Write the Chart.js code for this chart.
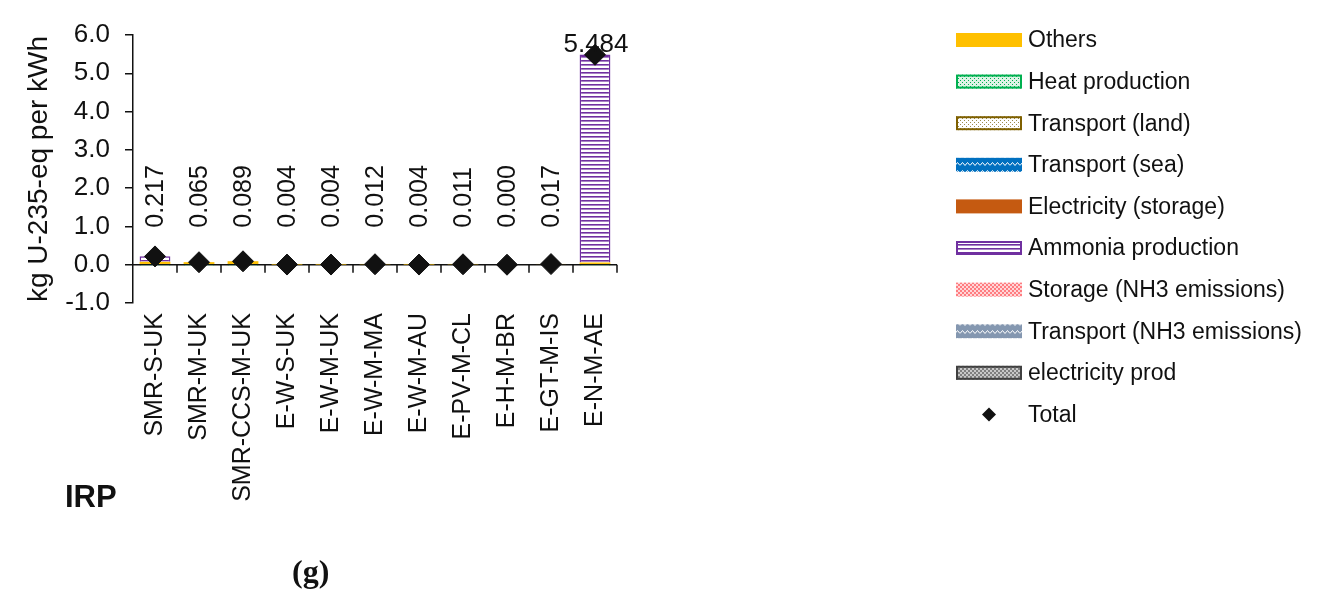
<!DOCTYPE html>
<html>
<head>
<meta charset="utf-8">
<script src="https://cdn.jsdelivr.net/npm/chart.js@4.4.1/dist/chart.umd.min.js"></script>
<style>
  html, body { margin: 0; padding: 0; background: #fff; }
  #wrap { position: relative; width: 1318px; height: 595px; }
  #chart { position: absolute; left: 0; top: 0; }
  .note { position: absolute; color: #111; line-height: 1; }
  #irp { left: 65px; top: 479px; font: bold 31px 'Liberation Sans', Arial, sans-serif; }
  #fig { left: 292px; top: 553px; font: bold 32px 'Liberation Serif', 'Times New Roman', serif; }
</style>
</head>
<body>
<div id="wrap">
  <canvas id="chart" width="1318" height="595"></canvas>
  <div class="note" id="irp">IRP</div>
  <div class="note" id="fig">(g)</div>
</div>
<script>
// Categorias e valores
const categories = ['SMR-S-UK', 'SMR-M-UK', 'SMR-CCS-M-UK', 'E-W-S-UK', 'E-W-M-UK', 'E-W-M-MA',
  'E-W-M-AU', 'E-PV-M-CL', 'E-H-M-BR', 'E-GT-M-IS', 'E-N-M-AE'];
const others = [0.076, 0.067, 0.092, 0.004, 0.004, 0.012, 0.004, 0.011, 0.000, 0.017, 0.058];
const heatProduction = [-0.004, -0.002, -0.003, 0, 0, 0, 0, 0, 0, 0, -0.004];
const transportLand = [0, 0, 0, 0, 0, 0, 0, 0, 0, 0, 0];
const transportSea = [0, 0, 0, 0, 0, 0, 0, 0, 0, 0, 0];
const electricityStorage = [0, 0, 0, 0, 0, 0, 0, 0, 0, 0, 0];
const ammoniaProduction = [0.145, 0, 0, 0, 0, 0, 0, 0, 0, 0, 5.430];
const storageNH3 = [0, 0, 0, 0, 0, 0, 0, 0, 0, 0, 0];
const transportNH3 = [0, 0, 0, 0, 0, 0, 0, 0, 0, 0, 0];
const electricityProd = [0, 0, 0, 0, 0, 0, 0, 0, 0, 0, 0];
const totals = [0.217, 0.065, 0.089, 0.004, 0.004, 0.012, 0.004, 0.011, 0.000, 0.017, 5.484];
const yTicks = [-1, 0, 1, 2, 3, 4, 5, 6];

const FONT = "'Liberation Sans', Arial, sans-serif";

// Texturas das barras
function makePattern(w, h, draw) {
  const c = document.createElement('canvas');
  c.width = w; c.height = h;
  const g = c.getContext('2d');
  draw(g, w, h);
  return g.createPattern(c, 'repeat');
}
const dots = (bg, fg) => makePattern(4, 4, (g) => {
  g.fillStyle = bg; g.fillRect(0, 0, 4, 4);
  g.fillStyle = fg; g.fillRect(0, 0, 1, 1); g.fillRect(2, 2, 1, 1);
});
const zigzag = (bg, fg) => makePattern(10, 8, (g) => {
  g.fillStyle = bg; g.fillRect(0, 0, 10, 8);
  g.strokeStyle = fg; g.lineWidth = 1;
  g.beginPath(); g.moveTo(0, 5.5); g.lineTo(2.5, 2.5); g.lineTo(5, 5.5); g.lineTo(7.5, 2.5); g.lineTo(10, 5.5); g.stroke();
});
const checks = (bg, fg) => makePattern(4, 4, (g) => {
  g.fillStyle = bg; g.fillRect(0, 0, 4, 4);
  g.fillStyle = fg; g.fillRect(0, 0, 2, 2); g.fillRect(2, 2, 2, 2);
});
const hlines = (fg) => makePattern(4, 4, (g) => {
  g.fillStyle = '#ffffff'; g.fillRect(0, 0, 4, 4);
  g.fillStyle = fg; g.fillRect(0, 0, 4, 1.6);
});

const series = [
  { label: 'Others', data: others, fill: '#FFC000', border: null },
  { label: 'Heat production', data: heatProduction, fill: dots('#dff3e6', '#00B050'), border: '#00B050' },
  { label: 'Transport (land)', data: transportLand, fill: dots('#ffffff', '#9c8a4a'), border: '#7F6000' },
  { label: 'Transport (sea)', data: transportSea, fill: zigzag('#0070C0', '#ffffff'), border: null },
  { label: 'Electricity (storage)', data: electricityStorage, fill: '#C55A11', border: null },
  { label: 'Ammonia production', data: ammoniaProduction, fill: hlines('#7030A0'), border: '#7030A0' },
  { label: 'Storage (NH3 emissions)', data: storageNH3, fill: checks('#FF7C80', '#ffd6d8'), border: null },
  { label: 'Transport (NH3 emissions)', data: transportNH3, fill: zigzag('#8497B0', '#ffffff'), border: null },
  { label: 'electricity prod', data: electricityProd, fill: checks('#7f7f7f', '#c8c8c8'), border: '#404040' },
];

const datasets = series.map((s) => ({
  type: 'bar',
  label: s.label,
  data: s.data,
  backgroundColor: s.fill,
  borderColor: s.border || s.fill,
  borderWidth: s.border ? 1.5 : 0,
  order: 2,
}));
datasets.push({
  type: 'line',
  label: 'Total',
  data: totals,
  showLine: false,
  pointStyle: 'rectRot',
  pointRadius: 10.5,
  pointHoverRadius: 10.5,
  pointBackgroundColor: '#111',
  pointBorderColor: '#111',
  order: 0,
});
const totalIndex = datasets.length - 1;

// Linha do eixo x no zero, com marcas entre categorias
const zeroAxis = {
  id: 'zeroAxis',
  beforeDatasetsDraw(chart) {
    const { ctx, chartArea, scales: { x, y } } = chart;
    const y0 = y.getPixelForValue(0);
    const half = (x.getPixelForValue(1) - x.getPixelForValue(0)) / 2;
    ctx.save();
    ctx.strokeStyle = '#111';
    ctx.lineWidth = 1.5;
    ctx.beginPath();
    ctx.moveTo(chartArea.left, y0);
    ctx.lineTo(chartArea.right, y0);
    categories.forEach((c, i) => {
      const bx = x.getPixelForValue(i) + half;
      ctx.moveTo(bx, y0);
      ctx.lineTo(bx, y0 + 8);
    });
    ctx.stroke();
    ctx.restore();
  },
};

// Rótulos dos totais
const valueLabels = {
  id: 'valueLabels',
  afterDatasetsDraw(chart) {
    const { ctx, scales: { y } } = chart;
    const meta = chart.getDatasetMeta(totalIndex);
    ctx.save();
    ctx.fillStyle = '#111';
    meta.data.forEach((pt, i) => {
      const txt = totals[i].toFixed(3);
      if (totals[i] > 1) {
        ctx.font = '26px ' + FONT;
        ctx.textAlign = 'center';
        ctx.textBaseline = 'alphabetic';
        ctx.fillText(txt, pt.x + 1, pt.y - 3);
      } else {
        ctx.font = '25px ' + FONT;
        ctx.save();
        ctx.translate(pt.x + 1, y.getPixelForValue(0) - 37);
        ctx.rotate(-Math.PI / 2);
        ctx.textAlign = 'left';
        ctx.textBaseline = 'middle';
        ctx.fillText(txt, 0, 0);
        ctx.restore();
      }
    });
    ctx.restore();
  },
};

// Legenda à direita
const sideLegend = {
  id: 'sideLegend',
  afterDraw(chart) {
    const { ctx } = chart;
    const left = 956, top = 40, step = 41.6, bw = 66, bh = 14;
    ctx.save();
    ctx.font = '23px ' + FONT;
    ctx.textBaseline = 'middle';
    ctx.textAlign = 'left';
    chart.data.datasets.forEach((ds, i) => {
      const cy = top + i * step;
      if (i === totalIndex) {
        ctx.fillStyle = '#111';
        ctx.beginPath();
        ctx.moveTo(left + 33, cy - 7);
        ctx.lineTo(left + 40, cy);
        ctx.lineTo(left + 33, cy + 7);
        ctx.lineTo(left + 26, cy);
        ctx.closePath();
        ctx.fill();
      } else {
        ctx.fillStyle = ds.backgroundColor;
        ctx.fillRect(left, cy - bh / 2, bw, bh);
        if (ds.borderWidth) {
          ctx.strokeStyle = ds.borderColor;
          ctx.lineWidth = 2;
          ctx.strokeRect(left + 1, cy - bh / 2 + 1, bw - 2, bh - 2);
        }
      }
      ctx.fillStyle = '#111';
      ctx.fillText(ds.label, left + 72, cy + 1);
    });
    ctx.restore();
  },
};

const ctx = document.getElementById('chart').getContext('2d');
const chart = new Chart(ctx, {
  data: { labels: categories, datasets },
  options: {
    responsive: false,
    animation: false,
    layout: { padding: { left: 0, top: 35, right: 701, bottom: 0 } },
    plugins: {
      legend: { display: false },
      tooltip: { enabled: false },
    },
    scales: {
      x: {
        stacked: true,
        grid: { display: false, drawTicks: false },
        border: { display: false },
        ticks: {
          color: '#111',
          font: { family: FONT, size: 25 },
          minRotation: 90,
          maxRotation: 90,
          padding: 10,
          autoSkip: false,
        },
        afterFit(scale) { scale.height = 292; },
      },
      y: {
        stacked: true,
        min: -1,
        max: 6,
        afterBuildTicks(scale) { scale.ticks = yTicks.map((v) => ({ value: v })); },
        grid: { drawOnChartArea: false, color: '#111', lineWidth: 1.5, tickLength: 8 },
        border: { color: '#111', width: 1.5 },
        ticks: {
          color: '#111',
          font: { family: FONT, size: 26 },
          padding: 15,
          callback: (v) => Number(v).toFixed(1),
        },
        title: {
          display: true,
          text: 'kg U-235-eq per kWh',
          color: '#111',
          font: { family: FONT, size: 28 },
          padding: { top: 22, bottom: 0 },
        },
        afterFit(scale) { scale.width = 133; },
      },
    },
    datasets: { bar: { categoryPercentage: 1, barPercentage: 0.7 } },
  },
  plugins: [zeroAxis, valueLabels, sideLegend],
});
</script>
</body>
</html>
